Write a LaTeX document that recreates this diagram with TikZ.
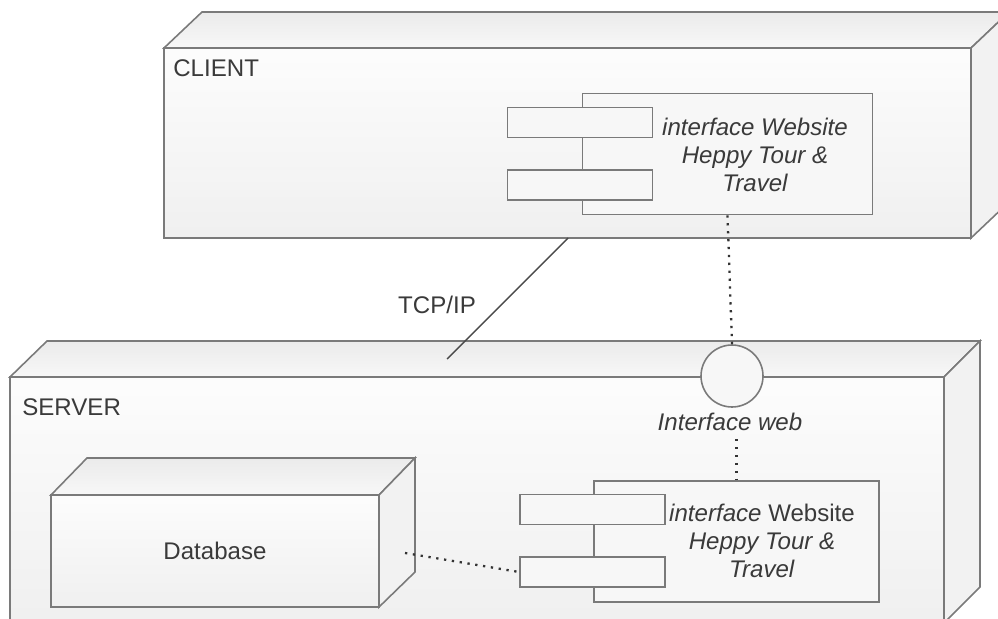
\documentclass[tikz,border=0pt]{standalone}
\usepackage{fontspec}
\setmainfont{Liberation Sans}

\definecolor{edgegray}{HTML}{7A7A7A}
\definecolor{inkgray}{HTML}{3A3A3A}

\begin{document}
\begin{tikzpicture}[scale=2,
	nodeface/.style={draw=edgegray, line width=0.9pt, top color=white!99!black, bottom color=white!94!black},
	nodelid/.style={draw=edgegray, line width=0.9pt, top color=white!92!black, bottom color=white!97!black},
	nodeside/.style={draw=edgegray, line width=0.9pt, fill=white!95!black},
	compbox/.style={draw=edgegray, line width=0.9pt, fill=white!97!black, minimum width=5.8cm, minimum height=2.42cm},
	portbox/.style={draw=edgegray, line width=0.9pt, fill=white!97!black, minimum width=2.9cm, minimum height=0.6cm},
	lbl/.style={text=inkgray, font=\fontsize{13.7}{16}\selectfont, inner sep=0pt},
	dotline/.style={draw=black!80, line width=1.3pt, dash pattern=on 1.3pt off 3.2pt}]
	\useasboundingbox (0,0) rectangle (9.98,-6.18);
	\clip (0,0) rectangle (9.98,-6.18);

	% Client
	\draw[nodelid] (1.64,-0.48) -- (2.02,-0.12) -- (10.09,-0.12) -- (9.71,-0.48) -- cycle;
	\draw[nodeside] (9.71,-0.48) -- (10.09,-0.12) -- (10.09,-2.02) -- (9.71,-2.38) -- cycle;
	\draw[nodeface] (1.64,-0.48) rectangle (9.71,-2.38);
	\node[lbl, anchor=base west] (client) at (1.73,-0.77) {CLIENT};

	\node[compbox] (clientapp) at (7.275,-1.54) {};
	\node[portbox] (clientp1) at (5.80,-1.225) {};
	\node[portbox] (clientp2) at (5.80,-1.85) {};
	\node[lbl, align=center, font=\fontsize{13.7}{16}\selectfont\itshape] (clienttxt) at (7.55,-1.55)
		{interface Website\\Heppy Tour \&\\Travel};

	% Server
	\draw[nodelid] (0.10,-3.77) -- (0.47,-3.41) -- (9.80,-3.41) -- (9.44,-3.77) -- cycle;
	\draw[nodeside] (9.44,-3.77) -- (9.80,-3.41) -- (9.80,-5.87) -- (9.44,-6.23) -- cycle;
	\draw[nodeface] (0.10,-3.77) rectangle (9.44,-6.23);
	\node[lbl, anchor=base west] (server) at (0.22,-4.15) {SERVER};

	% Database
	\draw[nodelid] (0.51,-4.95) -- (0.87,-4.58) -- (4.15,-4.58) -- (3.79,-4.95) -- cycle;
	\draw[nodeside] (3.79,-4.95) -- (4.15,-4.58) -- (4.15,-5.72) -- (3.79,-6.07) -- cycle;
	\draw[nodeface] (0.51,-4.95) rectangle (3.79,-6.07);
	\node[lbl] (db) at (2.15,-5.51) {Database};

	\node[compbox, minimum width=5.7cm] (serverapp) at (7.365,-5.415) {};
	\node[portbox] (serverp1) at (5.925,-5.095) {};
	\node[portbox] (serverp2) at (5.925,-5.72) {};
	\node[lbl, align=center] (servertxt) at (7.62,-5.41)
		{\textit{interface} Website\\\textit{Heppy Tour \&}\\\textit{Travel}};

	% Interface
	\node[draw=edgegray, line width=0.9pt, fill=white!97!black, circle, minimum size=1.24cm, inner sep=0pt] (iface) at (7.32,-3.76) {};
	\node[lbl, font=\fontsize{13.7}{16}\selectfont\itshape] (ifacetxt) at (7.30,-4.22) {Interface web};

	% Links
	\coordinate (tcpa) at (5.68,-2.38);
	\coordinate (tcpb) at (4.47,-3.59);
	\draw[edgegray!60!black, line width=0.8pt] (tcpa) -- (tcpb);
	\node[lbl] (tcp) at (4.37,-3.05) {TCP/IP};

	\draw[dotline] (clientapp.south) -- (iface.north);
	\draw[dotline] (ifacetxt.south -| serverapp.north) ++(0,-0.08) -- (serverapp.north);
	\coordinate (dbend) at (4.05,-5.53);
	\draw[dotline] (dbend) -- (serverp2.west);
\end{tikzpicture}
\end{document}
